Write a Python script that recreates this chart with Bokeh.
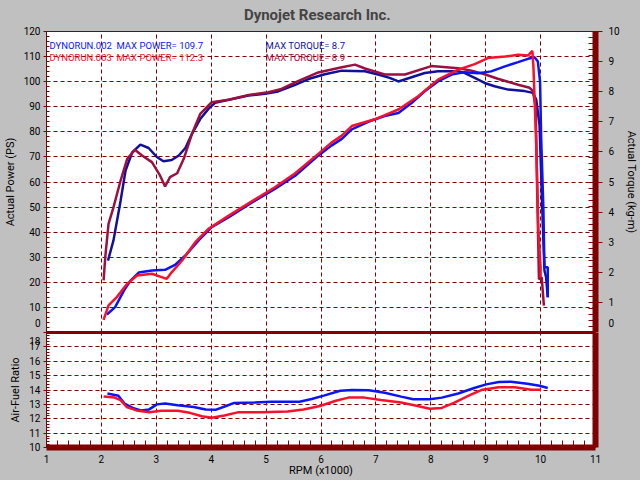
import numpy as np
from bokeh.plotting import figure
from bokeh.layouts import column
from bokeh.models import Range1d, LinearAxis, FixedTicker, Span, Label, GlobalInlineStyleSheet
from bokeh.embed import file_html
from bokeh.resources import INLINE

# ---------------- data ----------------
# Run 002: power (PS)
rpm_pw_002 = [2.10, 2.25, 2.41, 2.53, 2.68, 2.92, 3.16, 3.35, 3.53, 3.77, 4.01, 4.32, 4.68, 5.16,
              5.53, 5.95, 6.19, 6.38, 6.56, 6.86, 7.16, 7.41, 7.65, 7.89, 8.13, 8.38, 8.62, 8.86,
              9.10, 9.35, 9.59, 9.77, 9.89, 9.95, 9.99, 10.01, 10.05, 10.07, 10.13, 10.13]
pw_002 = [7.2, 10.1, 16.7, 20.7, 23.9, 24.7, 25.0, 27.1, 30.7, 36.7, 42.0, 46.0, 51.0, 57.2,
          62.5, 70.5, 74.5, 77.2, 81.0, 84.0, 86.3, 87.5, 91.5, 96.2, 100.1, 102.8, 103.8, 103.4,
          104.1, 106.1, 107.8, 109.1, 109.7, 108.0, 100.0, 77.8, 49.9, 26.0, 26.0, 14.0]
# Run 002: torque (kg-m)
rpm_tq_002 = [2.12, 2.22, 2.35, 2.44, 2.56, 2.71, 2.86, 3.01, 3.13, 3.28, 3.41, 3.53, 3.65, 3.80,
              3.95, 4.07, 4.32, 4.68, 4.98, 5.22, 5.53, 5.77, 6.07, 6.38, 6.80, 7.04, 7.25, 7.41,
              7.65, 7.89, 8.13, 8.50, 8.62, 8.80, 8.98, 9.16, 9.41, 9.71, 9.86, 9.92, 9.98, 10.01,
              10.04, 10.07, 10.10, 10.13]
tq_002 = [2.39, 3.06, 4.38, 5.38, 5.98, 6.24, 6.13, 5.83, 5.69, 5.73, 5.88, 6.13, 6.60, 7.09,
          7.43, 7.63, 7.73, 7.87, 7.93, 8.01, 8.23, 8.42, 8.58, 8.70, 8.68, 8.57, 8.46, 8.34,
          8.48, 8.62, 8.68, 8.68, 8.62, 8.46, 8.29, 8.18, 8.07, 8.02, 7.96, 7.74, 6.91, 5.26,
          3.61, 2.06, 1.84, 1.18]
# Run 003: power (PS)
rpm_pw_003 = [2.04, 2.13, 2.28, 2.47, 2.65, 2.92, 3.07, 3.19, 3.28, 3.47, 3.71, 3.95, 4.32, 4.68,
              5.16, 5.53, 5.95, 6.19, 6.38, 6.56, 6.98, 7.41, 7.77, 8.13, 8.50, 8.80, 9.04, 9.35,
              9.59, 9.77, 9.85, 9.87, 9.92, 9.96, 10.00, 10.00]
pw_003 = [5.0, 10.8, 14.1, 19.4, 22.7, 23.4, 22.3, 21.4, 24.0, 28.7, 36.0, 41.3, 46.6, 51.5,
          57.9, 63.5, 71.2, 75.7, 78.5, 82.3, 85.0, 88.9, 94.2, 100.8, 104.8, 107.0, 109.4, 110.0,
          110.7, 110.4, 112.3, 105.7, 75.3, 40.6, 26.0, 22.0]
# Run 003: torque (kg-m)
rpm_tq_003 = [2.04, 2.07, 2.13, 2.22, 2.35, 2.47, 2.61, 2.74, 2.92, 3.07, 3.16, 3.25, 3.38, 3.50,
              3.65, 3.80, 4.01, 4.32, 4.68, 5.04, 5.28, 5.53, 5.95, 6.38, 6.62, 6.80, 7.16, 7.53,
              8.01, 8.50, 8.74, 8.98, 9.22, 9.59, 9.80, 9.86, 9.91, 9.94, 9.97, 10.02, 10.06]
tq_003 = [1.73, 2.50, 3.61, 4.16, 5.05, 5.77, 6.07, 5.88, 5.66, 5.21, 4.85, 5.16, 5.29, 5.77,
          6.60, 7.26, 7.65, 7.73, 7.89, 7.98, 8.09, 8.31, 8.64, 8.81, 8.90, 8.77, 8.57, 8.57,
          8.85, 8.78, 8.70, 8.58, 8.43, 8.23, 8.13, 8.02, 7.50, 4.53, 1.77, 1.83, 0.89]
# Air-fuel ratio
rpm_afr_002 = [2.11, 2.31, 2.42, 2.57, 2.72, 2.87, 3.01, 3.16, 3.39, 3.68, 3.90, 4.09, 4.27, 4.42,
               4.79, 5.09, 5.39, 5.61, 5.83, 6.05, 6.35, 6.57, 6.87, 7.16, 7.46, 7.68, 7.98, 8.20,
               8.50, 8.79, 9.01, 9.24, 9.46, 9.76, 9.98, 10.13]
afr_002 = [13.76, 13.60, 13.06, 12.75, 12.58, 12.65, 13.00, 13.06, 12.94, 12.82, 12.65, 12.63, 12.89,
           13.10, 13.13, 13.18, 13.18, 13.18, 13.37, 13.61, 13.95, 14.00, 13.98, 13.81, 13.54, 13.35,
           13.35, 13.47, 13.76, 14.14, 14.39, 14.55, 14.58, 14.43, 14.29, 14.14]
rpm_afr_003 = [2.04, 2.24, 2.35, 2.46, 2.64, 2.87, 3.09, 3.39, 3.61, 3.83, 4.01, 4.24, 4.50, 4.94,
               5.39, 5.68, 5.98, 6.27, 6.50, 6.79, 7.09, 7.46, 7.76, 7.98, 8.20, 8.42, 8.72, 8.94,
               9.24, 9.53, 9.83, 10.01]
afr_003 = [13.54, 13.47, 13.30, 12.82, 12.58, 12.46, 12.55, 12.55, 12.41, 12.17, 12.07, 12.22, 12.46,
           12.46, 12.51, 12.65, 12.89, 13.25, 13.47, 13.47, 13.30, 13.13, 12.89, 12.70, 12.75, 13.10,
           13.66, 14.02, 14.19, 14.19, 14.02, 14.02]

rpm_ticks = list(range(1, 12))
power_ticks = list(range(0, 121, 10))
torque_ticks = list(range(0, 11))
afr_ticks = list(range(10, 19))
title_text = "Dynojet  Research  Inc."
run_names = ["DYNORUN.002", "DYNORUN.003"]
max_power = ["MAX POWER= 109.7", "MAX POWER= 112.3"]
max_torque = ["MAX TORQUE= 8.7", "MAX TORQUE= 8.9"]

# ---------------- style ----------------
FONT = "Roboto"
DR = "#800000"
GREY = "#c0c0c0"
BLUE = "#0a14f5"
NAVY = "#10109a"
RED = "#f8102c"
MAROON = "#9c1040"


def minor(lo, hi, step):
    n = int(round((hi - lo) / step))
    return [round(lo + i * step, 4) for i in range(n + 1)]


def style_axis(ax, font_size="10px"):
    ax.axis_line_color = DR
    ax.major_tick_line_color = DR
    ax.minor_tick_line_color = DR
    ax.major_label_text_font = FONT
    ax.major_label_text_font_size = font_size
    ax.major_label_text_color = "black"
    ax.major_label_text_line_height = 0.35
    ax.axis_label_text_font = FONT
    ax.axis_label_text_font_size = "11px"
    ax.axis_label_text_font_style = "normal"
    ax.axis_label_text_color = "black"


FW = 549

p1 = figure(frame_width=FW, frame_height=301, x_range=Range1d(1, 11), y_range=Range1d(0, 120),
            x_axis_location=None, output_backend="svg", toolbar_location=None,
            min_border_left=37, min_border_right=38, min_border_top=23, min_border_bottom=0,
            background_fill_color="white", border_fill_color=GREY, outline_line_color=DR,
            title=title_text)
p1.title.align = "center"
p1.title.text_font = FONT
p1.title.text_font_size = "15px"
p1.title.text_font_style = "bold"
p1.title.standoff = 11
p1.title.vertical_align = "top"

ya = p1.yaxis[0]
ya.ticker = FixedTicker(ticks=power_ticks, minor_ticks=minor(0, 120, 2))
# the zero label sits a little above its tick, as in the reference
ya.major_label_overrides = {0: "0\n "}
ya.axis_label = "Actual Power (PS)"
style_axis(ya)
ya.major_tick_out = 3
ya.major_tick_in = 0
ya.minor_tick_in = 3
ya.minor_tick_out = 0
ya.major_label_standoff = 3
ya.axis_label_standoff = 4

p1.extra_y_ranges = {"tq": Range1d(0, 10)}
ax_tq = LinearAxis(y_range_name="tq", ticker=FixedTicker(ticks=torque_ticks, minor_ticks=minor(0, 10, 0.2)),
                   axis_label="Actual Torque (kg-m)")
ax_tq.major_label_overrides = {0: "0\n "}
style_axis(ax_tq)
ax_tq.axis_line_width = 6
ax_tq.major_tick_out = 7
ax_tq.major_tick_in = 0
ax_tq.minor_tick_in = 7
ax_tq.minor_tick_out = 0
ax_tq.major_label_standoff = 6
ax_tq.axis_label_standoff = 2
p1.add_layout(ax_tq, "right")

for g in p1.xgrid:
    g.ticker = FixedTicker(ticks=rpm_ticks[1:-1])
for g in p1.ygrid:
    g.ticker = FixedTicker(ticks=power_ticks[1:-1])
p1.grid.grid_line_color = DR
p1.grid.grid_line_dash = "4 3"
p1.grid.grid_line_width = 1

p1.add_layout(Span(location=0, dimension="width", line_color=DR, line_width=3))

p1.line(rpm_tq_002, tq_002, y_range_name="tq", line_color=NAVY, line_width=2.5)
p1.line(rpm_tq_003, tq_003, y_range_name="tq", line_color=MAROON, line_width=2.5)
p1.line(rpm_pw_002, pw_002, line_color=BLUE, line_width=2.5)
p1.line(rpm_pw_003, pw_003, line_color=RED, line_width=2.5)

row_y = [114.5, 109.5]
for i, (c1, c2) in enumerate([(BLUE, NAVY), (RED, MAROON)]):
    for x, txt, col in [(1.055, run_names[i], c1), (2.275, max_power[i], c1), (4.99, max_torque[i], c2)]:
        p1.add_layout(Label(x=x, y=row_y[i], text=txt, text_color=col, text_font=FONT,
                            text_font_size="9.5px", text_baseline="middle", text_align="left"))

# ---------------- bottom panel: air-fuel ratio ----------------
p2 = figure(frame_width=FW, frame_height=115, x_range=p1.x_range, y_range=Range1d(10, 18),
            output_backend="svg", toolbar_location=None,
            min_border_left=37, min_border_right=38, min_border_top=0, min_border_bottom=0,
            background_fill_color="white", border_fill_color=GREY, outline_line_color=DR)

xa = p2.xaxis[0]
xa.ticker = FixedTicker(ticks=rpm_ticks, minor_ticks=minor(1, 11, 0.2))
xa.axis_label = "RPM (x1000)"
style_axis(xa)
xa.axis_line_width = 6
xa.major_tick_out = 0
xa.major_tick_in = 0
xa.minor_tick_in = 7
xa.minor_tick_out = 0
xa.major_label_standoff = 7
xa.axis_label_standoff = -2

ya2 = p2.yaxis[0]
ya2.ticker = FixedTicker(ticks=afr_ticks, minor_ticks=minor(10, 18, 0.2))
# the top label sits a little below its tick, as in the reference
ya2.major_label_overrides = {18: " \n18"}
ya2.axis_label = "Air-Fuel Ratio"
style_axis(ya2)
ya2.major_tick_out = 3
ya2.major_tick_in = 0
ya2.minor_tick_in = 3
ya2.minor_tick_out = 0
ya2.major_label_standoff = 3
ya2.axis_label_standoff = 4

ax_r2 = LinearAxis(ticker=FixedTicker(ticks=[]))
style_axis(ax_r2)
ax_r2.axis_line_width = 6
ax_r2.major_tick_out = 0
ax_r2.minor_tick_out = 0
p2.add_layout(ax_r2, "right")

for g in p2.xgrid:
    g.ticker = FixedTicker(ticks=rpm_ticks[1:-1])
for g in p2.ygrid:
    g.ticker = FixedTicker(ticks=afr_ticks[1:-1])
p2.grid.grid_line_color = DR
p2.grid.grid_line_dash = "4 3"
p2.grid.grid_line_width = 1

p2.add_layout(Span(location=18, dimension="width", line_color=DR, line_width=3))

p2.line(rpm_afr_002, afr_002, line_color=BLUE, line_width=2.5)
p2.line(rpm_afr_003, afr_003, line_color=RED, line_width=2.5)

page = column(p1, p2, spacing=0,
              stylesheets=[GlobalInlineStyleSheet(css="html, body { background: #c0c0c0; overflow: hidden; }")])

open("out.html", "w").write(file_html(page, INLINE))
